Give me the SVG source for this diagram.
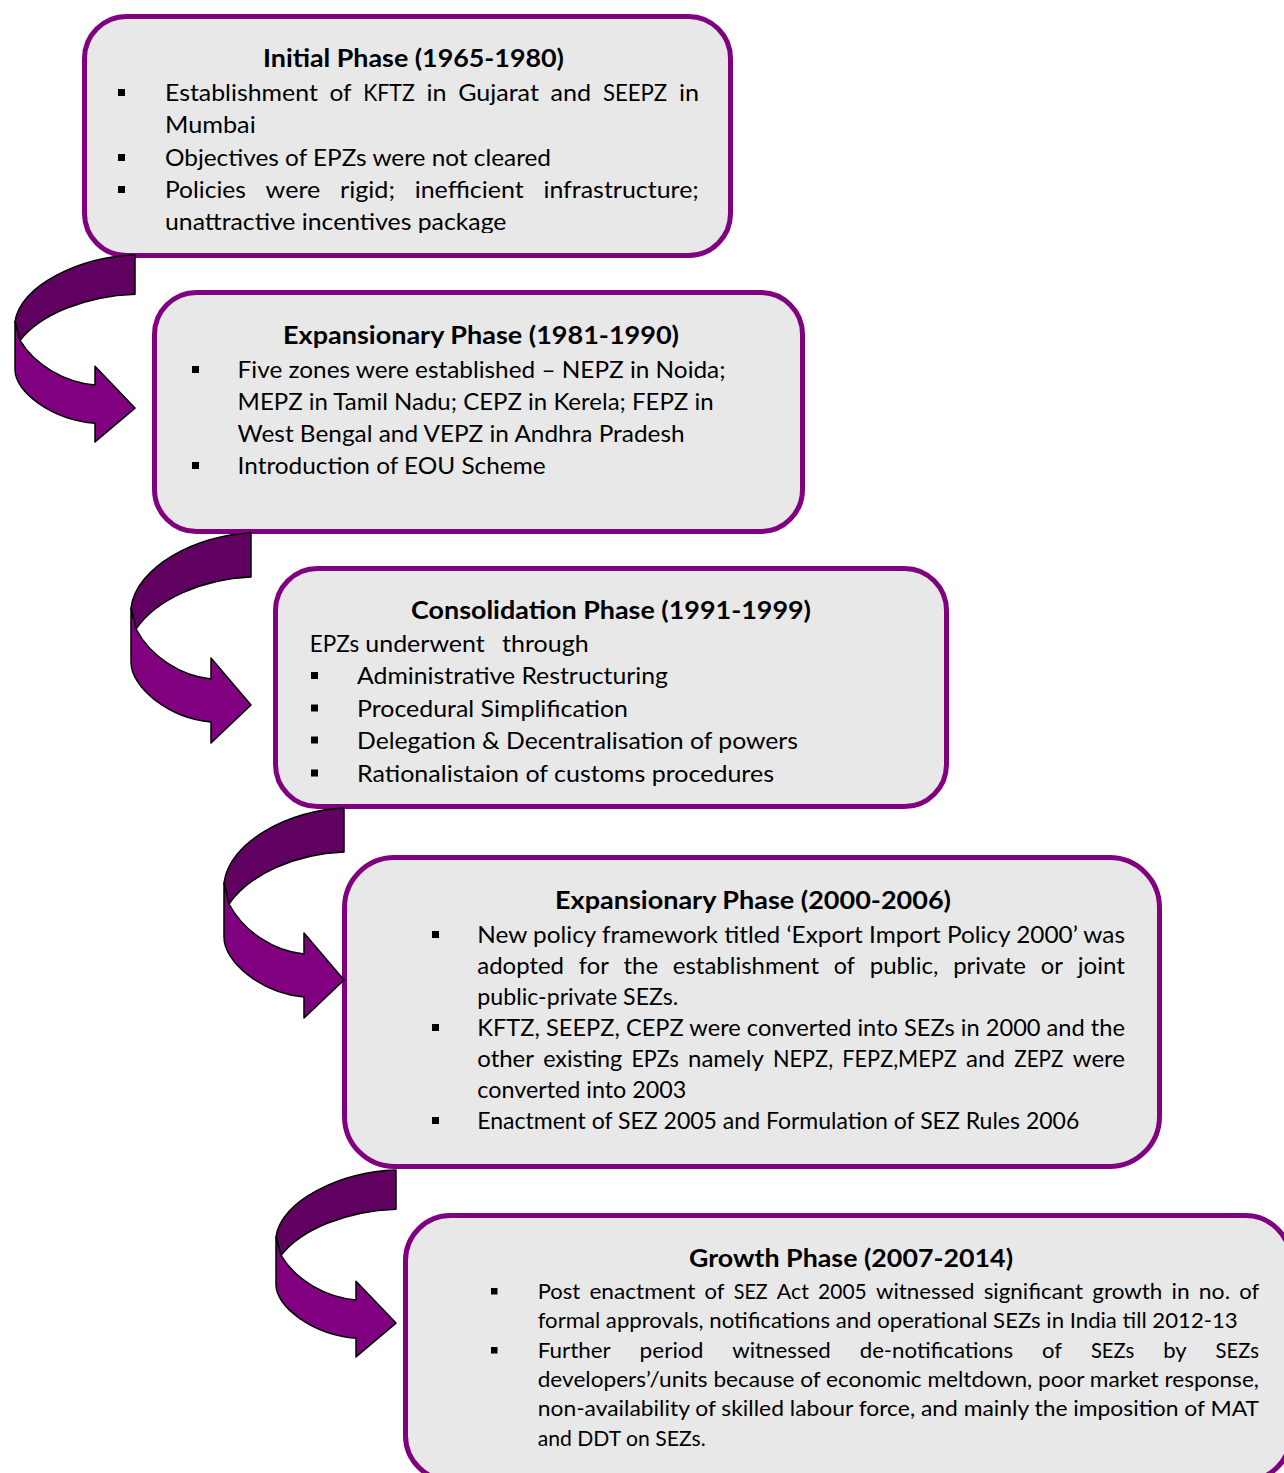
<svg xmlns="http://www.w3.org/2000/svg" width="1284" height="1473" viewBox="0 0 1284 1473">
<defs>
<style>
.box{fill:#e8e8e8;stroke:#800080;stroke-width:5}
.t{font-family:Lato,"Liberation Sans",sans-serif;font-weight:700;fill:#000}
.b{font-family:Lato,"Liberation Sans",sans-serif;fill:#000}
.dk{fill:#600060;stroke:#000;stroke-width:1.5;stroke-linejoin:round;vector-effect:non-scaling-stroke}
.lt{fill:#800080;stroke:#000;stroke-width:1.5;stroke-linejoin:round;vector-effect:non-scaling-stroke}
.sq{fill:#000}
</style>
<g id="arr">
<path class="dk" d="M0,0 C-55,2 -115,34 -120,75 L-115,96 C-95,67 -50,46 0,44 Z"/>
<path class="lt" d="M-120,75 L-115,96 C-100,124 -70,143 -40,146 L-40,125 L0,172 L-40,210 L-40,189 C-83,185 -120,154 -120,129 Z"/>
</g>
<clipPath id="c1"><rect x="80" y="10" width="660" height="223"/></clipPath>
</defs>
<rect width="1284" height="1473" fill="#fff"/>

<g id="node-initial">
<rect class="box" x="84.5" y="16.5" width="646" height="239" rx="42"/>
<g clip-path="url(#c1)">
<text class="t" x="263" y="67" font-size="25.5" textLength="301" lengthAdjust="spacingAndGlyphs">Initial Phase (1965-1980)</text>
<rect class="sq" x="118" y="89" width="7" height="7"/>
<g class="b" font-size="24" lengthAdjust="spacingAndGlyphs">
<text x="165" y="101" textLength="152.8" lengthAdjust="spacingAndGlyphs">Establishment</text>
<text x="329.5" y="101" textLength="22.1" lengthAdjust="spacingAndGlyphs">of</text>
<text x="363.3" y="101" textLength="51.4" lengthAdjust="spacingAndGlyphs">KFTZ</text>
<text x="426.4" y="101" textLength="20.1" lengthAdjust="spacingAndGlyphs">in</text>
<text x="458.2" y="101" textLength="80.7" lengthAdjust="spacingAndGlyphs">Gujarat</text>
<text x="550.6" y="101" textLength="40.6" lengthAdjust="spacingAndGlyphs">and</text>
<text x="602.9" y="101" textLength="64.3" lengthAdjust="spacingAndGlyphs">SEEPZ</text>
<text x="678.9" y="101" textLength="20.1" lengthAdjust="spacingAndGlyphs">in</text>
</g>
<text class="b" x="165" y="133" font-size="24" textLength="90.7" lengthAdjust="spacingAndGlyphs">Mumbai</text>
<rect class="sq" x="118" y="154" width="7" height="7"/>
<text class="b" x="165" y="166" font-size="24" textLength="386" lengthAdjust="spacingAndGlyphs">Objectives of EPZs were not cleared</text>
<rect class="sq" x="118" y="186" width="7" height="7"/>
<g class="b" font-size="24">
<text x="165" y="198" textLength="80.9" lengthAdjust="spacingAndGlyphs">Policies</text>
<text x="265.6" y="198" textLength="54.7" lengthAdjust="spacingAndGlyphs">were</text>
<text x="340" y="198" textLength="55" lengthAdjust="spacingAndGlyphs">rigid;</text>
<text x="414.7" y="198" textLength="109" lengthAdjust="spacingAndGlyphs">inefficient</text>
<text x="543.4" y="198" textLength="155.5" lengthAdjust="spacingAndGlyphs">infrastructure;</text>
</g>
<text class="b" x="165" y="230" font-size="24" textLength="341.4" lengthAdjust="spacingAndGlyphs">unattractive incentives package</text>
</g>
</g>

<g id="node-expansion1">
<rect class="box" x="154.5" y="292.5" width="648" height="239" rx="42"/>
<text class="t" x="283" y="344" font-size="25.5" textLength="396" lengthAdjust="spacingAndGlyphs">Expansionary Phase (1981-1990)</text>
<rect class="sq" x="192" y="366" width="7" height="7"/>
<text class="b" x="237.6" y="378" font-size="24" textLength="488" lengthAdjust="spacingAndGlyphs">Five zones were established – NEPZ in Noida;</text>
<text class="b" x="237.6" y="410" font-size="24" textLength="476" lengthAdjust="spacingAndGlyphs">MEPZ in Tamil Nadu; CEPZ in Kerela; FEPZ in</text>
<text class="b" x="237.6" y="442" font-size="24" textLength="447" lengthAdjust="spacingAndGlyphs">West Bengal and VEPZ in Andhra Pradesh</text>
<rect class="sq" x="192" y="462" width="7" height="7"/>
<text class="b" x="237.6" y="474" font-size="24" textLength="308" lengthAdjust="spacingAndGlyphs">Introduction of EOU Scheme</text>
</g>

<g id="node-consolidation">
<rect class="box" x="275.5" y="568.5" width="671" height="238" rx="42"/>
<text class="t" x="411" y="619" font-size="25.5" textLength="400" lengthAdjust="spacingAndGlyphs">Consolidation Phase (1991-1999)</text>
<g class="b" font-size="24">
<text x="309.8" y="652" textLength="49.5" lengthAdjust="spacingAndGlyphs">EPZs</text>
<text x="365.3" y="652" textLength="119.4" lengthAdjust="spacingAndGlyphs">underwent</text>
<text x="502" y="652" textLength="86.6" lengthAdjust="spacingAndGlyphs">through</text>
</g>
<rect class="sq" x="311" y="672" width="7" height="7"/>
<text class="b" x="357" y="684" font-size="24" textLength="311" lengthAdjust="spacingAndGlyphs">Administrative Restructuring</text>
<rect class="sq" x="311" y="704.5" width="7" height="7"/>
<text class="b" x="357" y="716.5" font-size="24" textLength="271" lengthAdjust="spacingAndGlyphs">Procedural Simplification</text>
<rect class="sq" x="311" y="736.5" width="7" height="7"/>
<text class="b" x="357" y="748.5" font-size="24" textLength="441" lengthAdjust="spacingAndGlyphs">Delegation &amp; Decentralisation of powers</text>
<rect class="sq" x="311" y="769.5" width="7" height="7"/>
<text class="b" x="357" y="781.5" font-size="24" textLength="417" lengthAdjust="spacingAndGlyphs">Rationalistaion of customs procedures</text>
</g>

<g id="node-expansion2">
<rect class="box" x="344.5" y="857.5" width="815" height="309" rx="50"/>
<text class="t" x="555" y="909" font-size="25.5" textLength="396" lengthAdjust="spacingAndGlyphs">Expansionary Phase (2000-2006)</text>
<rect class="sq" x="432" y="931" width="7" height="7"/>
<text class="b" x="477.3" y="943" font-size="23" textLength="647.7" lengthAdjust="spacingAndGlyphs">New policy framework titled ‘Export Import Policy 2000’ was</text>
<g class="b" font-size="23">
<text x="477.3" y="974" textLength="86.7" lengthAdjust="spacingAndGlyphs">adopted</text>
<text x="578.8" y="974" textLength="30" lengthAdjust="spacingAndGlyphs">for</text>
<text x="623.5" y="974" textLength="34.5" lengthAdjust="spacingAndGlyphs">the</text>
<text x="672.8" y="974" textLength="146.3" lengthAdjust="spacingAndGlyphs">establishment</text>
<text x="833.8" y="974" textLength="21.1" lengthAdjust="spacingAndGlyphs">of</text>
<text x="869.7" y="974" textLength="68.8" lengthAdjust="spacingAndGlyphs">public,</text>
<text x="953.2" y="974" textLength="72.8" lengthAdjust="spacingAndGlyphs">private</text>
<text x="1040.8" y="974" textLength="22.2" lengthAdjust="spacingAndGlyphs">or</text>
<text x="1077.8" y="974" textLength="47.2" lengthAdjust="spacingAndGlyphs">joint</text>
</g>
<text class="b" x="477.3" y="1005" font-size="23" textLength="201" lengthAdjust="spacingAndGlyphs">public-private SEZs.</text>
<rect class="sq" x="432" y="1024" width="7" height="7"/>
<text class="b" x="477.3" y="1036" font-size="23" textLength="647.7" lengthAdjust="spacingAndGlyphs">KFTZ, SEEPZ, CEPZ were converted into SEZs in 2000 and the</text>
<g class="b" font-size="23">
<text x="477.3" y="1067" textLength="56.7" lengthAdjust="spacingAndGlyphs">other</text>
<text x="543.2" y="1067" textLength="79" lengthAdjust="spacingAndGlyphs">existing</text>
<text x="631.4" y="1067" textLength="47.4" lengthAdjust="spacingAndGlyphs">EPZs</text>
<text x="688" y="1067" textLength="75.8" lengthAdjust="spacingAndGlyphs">namely</text>
<text x="773" y="1067" textLength="60.1" lengthAdjust="spacingAndGlyphs">NEPZ,</text>
<text x="842.3" y="1067" textLength="114.6" lengthAdjust="spacingAndGlyphs">FEPZ,MEPZ</text>
<text x="966.1" y="1067" textLength="38.9" lengthAdjust="spacingAndGlyphs">and</text>
<text x="1014.2" y="1067" textLength="49.3" lengthAdjust="spacingAndGlyphs">ZEPZ</text>
<text x="1072.7" y="1067" textLength="52.3" lengthAdjust="spacingAndGlyphs">were</text>
</g>
<text class="b" x="477.3" y="1098" font-size="23" textLength="209" lengthAdjust="spacingAndGlyphs">converted into 2003</text>
<rect class="sq" x="432" y="1117" width="7" height="7"/>
<text class="b" x="477.3" y="1129" font-size="23" textLength="602" lengthAdjust="spacingAndGlyphs">Enactment of SEZ 2005 and Formulation of SEZ Rules 2006</text>
</g>

<g id="node-growth">
<rect class="box" x="405.5" y="1215.5" width="885" height="265" rx="45"/>
<text class="t" x="689" y="1267" font-size="25" textLength="324" lengthAdjust="spacingAndGlyphs">Growth Phase (2007-2014)</text>
<rect class="sq" x="491" y="1288" width="6.5" height="6.5"/>
<g class="b" font-size="21.7">
<text x="537.7" y="1299" textLength="42.5" lengthAdjust="spacingAndGlyphs">Post</text>
<text x="589.4" y="1299" textLength="106" lengthAdjust="spacingAndGlyphs">enactment</text>
<text x="704.5" y="1299" textLength="20" lengthAdjust="spacingAndGlyphs">of</text>
<text x="733.7" y="1299" textLength="34" lengthAdjust="spacingAndGlyphs">SEZ</text>
<text x="776.8" y="1299" textLength="32.1" lengthAdjust="spacingAndGlyphs">Act</text>
<text x="818.1" y="1299" textLength="48.7" lengthAdjust="spacingAndGlyphs">2005</text>
<text x="876" y="1299" textLength="98.6" lengthAdjust="spacingAndGlyphs">witnessed</text>
<text x="983.7" y="1299" textLength="99.4" lengthAdjust="spacingAndGlyphs">significant</text>
<text x="1092.3" y="1299" textLength="70.1" lengthAdjust="spacingAndGlyphs">growth</text>
<text x="1171.5" y="1299" textLength="18.1" lengthAdjust="spacingAndGlyphs">in</text>
<text x="1198.8" y="1299" textLength="31.3" lengthAdjust="spacingAndGlyphs">no.</text>
<text x="1239.2" y="1299" textLength="20" lengthAdjust="spacingAndGlyphs">of</text>
</g>
<text class="b" x="537.7" y="1328" font-size="21.7" textLength="700" lengthAdjust="spacingAndGlyphs">formal approvals, notifications and operational SEZs in India till 2012-13</text>
<rect class="sq" x="491" y="1347" width="6.5" height="6.5"/>
<g class="b" font-size="21.7">
<text x="537.7" y="1358" textLength="73" lengthAdjust="spacingAndGlyphs">Further</text>
<text x="639.6" y="1358" textLength="63.7" lengthAdjust="spacingAndGlyphs">period</text>
<text x="732.2" y="1358" textLength="98.6" lengthAdjust="spacingAndGlyphs">witnessed</text>
<text x="859.7" y="1358" textLength="153.4" lengthAdjust="spacingAndGlyphs">de-notifications</text>
<text x="1042" y="1358" textLength="20" lengthAdjust="spacingAndGlyphs">of</text>
<text x="1090.9" y="1358" textLength="43.4" lengthAdjust="spacingAndGlyphs">SEZs</text>
<text x="1163.2" y="1358" textLength="23.5" lengthAdjust="spacingAndGlyphs">by</text>
<text x="1215.6" y="1358" textLength="43.4" lengthAdjust="spacingAndGlyphs">SEZs</text>
</g>
<text class="b" x="537.7" y="1387" font-size="21.7" textLength="721.3" lengthAdjust="spacingAndGlyphs">developers’/units because of economic meltdown, poor market response,</text>
<text class="b" x="537.7" y="1416" font-size="21.7" textLength="721.3" lengthAdjust="spacingAndGlyphs">non-availability of skilled labour force, and mainly the imposition of MAT</text>
<text class="b" x="537.7" y="1446" font-size="21.7" textLength="168" lengthAdjust="spacingAndGlyphs">and DDT on SEZs.</text>
</g>

<g id="connectors">
<use href="#arr" transform="translate(135,255) scale(1,0.89)"/>
<use href="#arr" transform="translate(251,533)"/>
<use href="#arr" transform="translate(344,808)"/>
<use href="#arr" transform="translate(396,1170) scale(1,0.89)"/>
</g>
</svg>
